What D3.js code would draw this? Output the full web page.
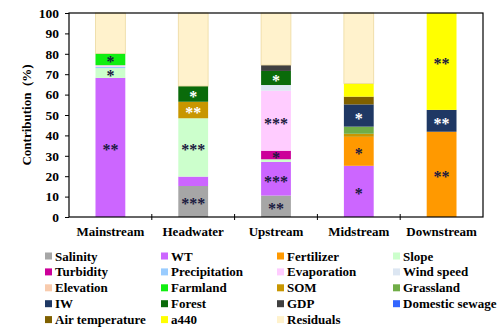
<!DOCTYPE html>
<html>
<head>
<meta charset="utf-8">
<script src="https://cdn.jsdelivr.net/npm/d3@7"></script>
<style>
  html, body { margin: 0; padding: 0; background: #fff; }
  svg { display: block; }
  text { font-family: "Liberation Serif", "Times New Roman", serif; font-weight: bold; }
</style>
</head>
<body>
<svg id="chart" width="501" height="333"></svg>
<script>
// Study reaches along the river
const regions = ["Mainstream", "Headwater", "Upstream", "Midstream", "Downstream"];

// Driving factors, in stacking / legend order
const factors = [
  "Salinity", "WT", "Fertilizer", "Slope",
  "Turbidity", "Precipitation", "Evaporation", "Wind speed",
  "Elevation", "Farmland", "SOM", "Grassland",
  "IW", "Forest", "GDP", "Domestic sewage",
  "Air temperature", "a440", "Residuals"
];

const factorColors = [
  "#a6a6a6", "#cc66ff", "#ff9900", "#ccffcc",
  "#cc0099", "#99ccff", "#ffccff", "#dce6f2",
  "#f8cbad", "#11ee11", "#c89600", "#70ad47",
  "#1f3864", "#0a6b0a", "#404040", "#3366ff",
  "#7f6000", "#ffff00", "#fff2cc"
];

// Contribution (%) of each factor, one value per reach
const salinity       = [0,    15.2, 10.5, 0,    0];
const wt             = [68.2, 4.6,  16.5, 25.1, 0];
const fertilizer     = [0,    0,    0,    14.2, 41.8];
const slope          = [4.8,  28.6, 1.3,  0,    0];
const turbidity      = [0,    0,    4.2,  0,    0];
const precipitation  = [0.6,  0,    0,    0,    0];
const evaporation    = [0.8,  0,    29.4, 0,    0];
const windSpeed      = [0,    0,    2.8,  0,    0];
const elevation      = [0,    0,    0,    0,    0];
const farmland       = [5.8,  0,    0,    0,    0];
const som            = [0,    8.1,  0,    1.5,  0];
const grassland      = [0,    0,    0,    3.5,  0];
const iw             = [0,    0,    0,    10.9, 10.7];
const forest         = [0,    7.7,  6.9,  0,    0];
const gdp            = [0,    0,    2.9,  0,    0];
const domesticSewage = [0,    0,    0,    0,    0];
const airTemperature = [0,    0,    0,    3.8,  0];
const a440           = [0,    0,    0,    6.5,  47.5];
const residuals      = [19.8, 35.8, 25.5, 34.5, 0];

const series = [
  salinity, wt, fertilizer, slope,
  turbidity, precipitation, evaporation, windSpeed,
  elevation, farmland, som, grassland,
  iw, forest, gdp, domesticSewage,
  airTemperature, a440, residuals
];

// Significance marks: [reach, factor, stars]
const significance = [
  ["Mainstream", "WT", "**"], ["Mainstream", "Slope", "*"], ["Mainstream", "Farmland", "*"],
  ["Headwater", "Salinity", "***"], ["Headwater", "Slope", "***"], ["Headwater", "SOM", "**"], ["Headwater", "Forest", "*"],
  ["Upstream", "Salinity", "**"], ["Upstream", "WT", "***"], ["Upstream", "Turbidity", "*"],
  ["Upstream", "Evaporation", "***"], ["Upstream", "Forest", "*"],
  ["Midstream", "WT", "*"], ["Midstream", "Fertilizer", "*"], ["Midstream", "IW", "*"],
  ["Downstream", "Fertilizer", "**"], ["Downstream", "IW", "**"], ["Downstream", "a440", "**"]
];

// Stars drawn in white on dark fills
const lightStarFactors = ["SOM", "IW", "Forest"];

const yTicks = [0, 10, 20, 30, 40, 50, 60, 70, 80, 90, 100];

// ---- layout ----
const svg = d3.select("#chart");
const margin = { top: 13, right: 18, bottom: 116, left: 69 };
const W = 501, H = 333;
const innerW = W - margin.left - margin.right;
const innerH = H - margin.top - margin.bottom;

const g = svg.append("g").attr("transform", `translate(${margin.left},${margin.top})`);

const x = d3.scaleBand().domain(regions).range([0, innerW]).paddingInner(0.64).paddingOuter(0.32);
const y = d3.scaleLinear().domain([0, 100]).range([innerH, 0]);
const color = d3.scaleOrdinal().domain(factors).range(factorColors);

// Wide table for d3.stack
const table = regions.map((r, i) => {
  const row = { region: r };
  factors.forEach((f, j) => { row[f] = series[j][i]; });
  return row;
});

const stacked = d3.stack().keys(factors)(table);

// ---- bars ----
const layers = g.append("g").selectAll("g")
  .data(stacked)
  .join("g")
  .attr("fill", d => color(d.key));

layers.selectAll("rect")
  .data(d => d.map(v => Object.assign(v, { key: d.key })))
  .join("rect")
  .filter(d => d[1] - d[0] > 0)
  .attr("x", d => x(d.data.region))
  .attr("width", x.bandwidth())
  .attr("y", d => y(d[1]))
  .attr("height", d => y(d[0]) - y(d[1]))
  .attr("stroke", d => d.key === "Residuals" ? "#ecd9a0" : "none")
  .attr("stroke-width", 0.8);

// ---- significance stars ----
const starSize = 16;
g.append("g").selectAll("text")
  .data(significance)
  .join("text")
  .attr("text-anchor", "middle")
  .attr("font-size", starSize)
  .attr("fill", d => lightStarFactors.includes(d[1]) ? "#ffffff" : "#1a1a40")
  .attr("x", d => x(d[0]) + x.bandwidth() / 2)
  .attr("y", d => {
    const layer = stacked[factors.indexOf(d[1])];
    const seg = layer[regions.indexOf(d[0])];
    return (y(seg[0]) + y(seg[1])) / 2 + starSize * 0.5;
  })
  .text(d => d[2]);

// ---- axes ----
const yAxis = g.append("g")
  .call(d3.axisLeft(y).tickValues(yTicks).tickSize(4).tickPadding(6).tickFormat(d3.format("d")));
yAxis.select(".domain").remove();
yAxis.selectAll("line").attr("stroke", "#000");
yAxis.selectAll("text")
  .attr("font-size", 13.5)
  .attr("font-family", "Liberation Serif, serif")
  .attr("font-weight", "bold")
  .attr("fill", "#000");

// category ticks sit on the band boundaries
const boundaries = regions.slice(1).map(r => x(r) - x.step() * x.paddingInner() / 2);
g.append("g").selectAll("line")
  .data(boundaries)
  .join("line")
  .attr("x1", d => d).attr("x2", d => d)
  .attr("y1", innerH - 3).attr("y2", innerH + 3)
  .attr("stroke", "#000");

g.append("g").selectAll("text")
  .data(regions)
  .join("text")
  .attr("x", d => x(d) + x.bandwidth() / 2)
  .attr("y", innerH + 19)
  .attr("text-anchor", "middle")
  .attr("font-size", 13)
  .attr("fill", "#000")
  .text(d => d);

// plot frame
g.append("rect")
  .attr("x", 0).attr("y", 0)
  .attr("width", innerW).attr("height", innerH)
  .attr("fill", "none")
  .attr("stroke", "#000")
  .attr("stroke-width", 1.2);

// y title
svg.append("text")
  .attr("transform", `translate(31,${margin.top + innerH / 2}) rotate(-90)`)
  .attr("text-anchor", "middle")
  .attr("font-size", 13)
  .attr("fill", "#000")
  .text("Contribution\u2002(%)");

// ---- legend ----
const legendCols = [45, 161, 277, 393];
const legendRow0 = 256, legendRowStep = 15.9;
const legend = svg.append("g").selectAll("g")
  .data(factors)
  .join("g")
  .attr("transform", (d, i) => `translate(${legendCols[i % 4]},${legendRow0 + Math.floor(i / 4) * legendRowStep})`);

legend.append("rect")
  .attr("x", 0).attr("y", -3.5)
  .attr("width", 7).attr("height", 7)
  .attr("fill", d => color(d));

legend.append("text")
  .attr("x", 10)
  .attr("y", 4.5)
  .attr("font-size", 13)
  .attr("fill", "#000")
  .text(d => d);
</script>
</body>
</html>
